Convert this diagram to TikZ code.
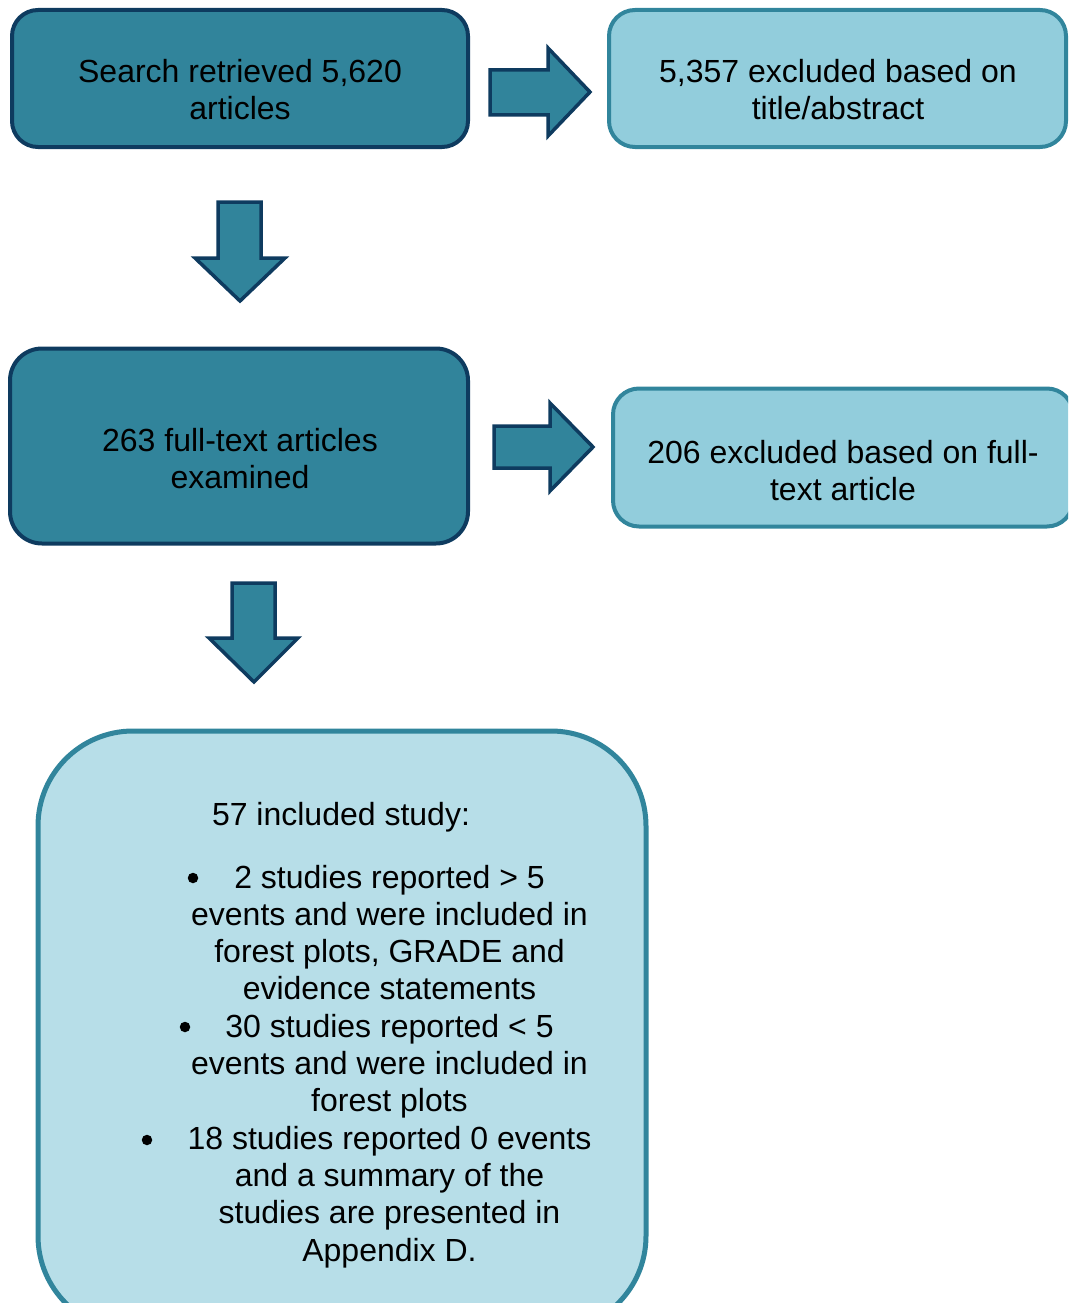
\documentclass[tikz,border=0pt]{standalone}
\usepackage{fontspec}
\setmainfont{Liberation Sans}
\definecolor{darkfill}{HTML}{31849B}
\definecolor{navy}{HTML}{0E3B5F}
\definecolor{lightfill}{HTML}{92CDDC}
\definecolor{paleFill}{HTML}{B7DEE8}
\definecolor{tealline}{HTML}{31859C}
\tikzset{
  darkbox/.style={draw=navy, fill=darkfill, line width=4pt, inner sep=0pt},
  lightbox/.style={draw=tealline, fill=lightfill, line width=4pt, inner sep=0pt},
  palebox/.style={draw=tealline, fill=paleFill, line width=5pt, inner sep=0pt},
  blockarrow/.style={draw=navy, fill=darkfill, line width=3.5pt, line join=miter},
  txt/.style={anchor=base, inner sep=0pt, font=\fontsize{32}{37}\selectfont},
  bulletdot/.style={circle, fill=black, inner sep=0pt, minimum size=10.5pt}
}
\begin{document}
\begin{tikzpicture}[x=1pt,y=-1pt]
\useasboundingbox (0,0) rectangle (1068,1303);
\clip (0,0) rectangle (1068,1303);
% boxes
\node[darkbox, rounded corners=26pt, minimum width=456pt, minimum height=137pt] (search) at (240,78.5) {};
\node[lightbox, rounded corners=26pt, minimum width=457pt, minimum height=137pt] (excl1) at (837.5,78.5) {};
\node[darkbox, rounded corners=32pt, minimum width=458pt, minimum height=195pt] (full) at (239,446) {};
\node[lightbox, rounded corners=26pt, minimum width=460pt, minimum height=138pt] (excl2) at (843,457.5) {};
\node[palebox, rounded corners=95pt, minimum width=608pt, minimum height=600pt] (incl) at (342,1031) {};
% block arrows
\draw[blockarrow] (490,70) -- (548,70) -- (548,48) -- (590,92) -- (548,136) -- (548,115) -- (490,115) -- cycle;
\draw[blockarrow] (218,202) -- (261,202) -- (261,258) -- (285,258) -- (240,301) -- (195,258) -- (218,258) -- cycle;
\draw[blockarrow] (494,426) -- (550,426) -- (550,403) -- (593,447) -- (550,491) -- (550,468) -- (494,468) -- cycle;
\draw[blockarrow] (232,583) -- (275,583) -- (275,638) -- (298,638) -- (254,682) -- (209,638) -- (232,638) -- cycle;
% texts
\node[txt] (t1a) at (240,83) {Search retrieved 5,620};
\node[txt] (t1b) at (240,119.5) {articles};
\node[txt] (t2a) at (838,83) {5,357 excluded based on};
\node[txt] (t2b) at (838,119.5) {title/abstract};
\node[txt] (t3a) at (240,451) {263 full-text articles};
\node[txt] (t3b) at (240,488) {examined};
\node[txt] (t4a) at (843,463) {206 excluded based on full-};
\node[txt] (t4b) at (843,500) {text article};
\node[txt] (t5h) at (341,825) {57 included study:};
\foreach \t [count=\i] in {2 studies reported > 5, events and were included in, {forest plots, GRADE and}, evidence statements, 30 studies reported < 5, events and were included in, forest plots, 18 studies reported 0 events, and a summary of the, studies are presented in, Appendix D.}
  \node[txt] (l\i) at (389.5,{888+37.3*(\i-1)}) {\t};
\node[bulletdot] (b1) at (193,878) {};
\node[bulletdot] (b2) at (185,1027) {};
\node[bulletdot] (b3) at (147,1140) {};
\end{tikzpicture}
\end{document}
